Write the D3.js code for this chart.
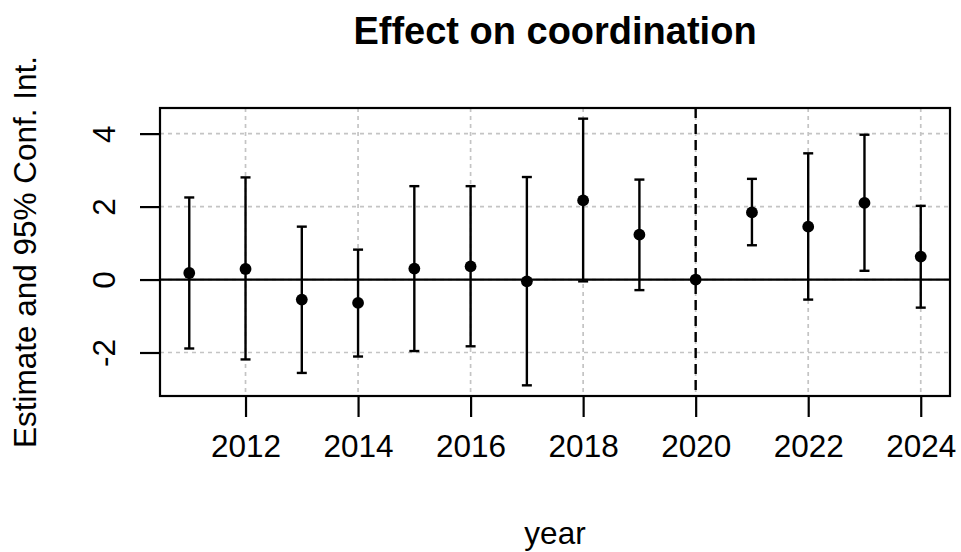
<!DOCTYPE html>
<html>
<head>
<meta charset="utf-8">
<script src="https://d3js.org/d3.v7.min.js"></script>
<title>Effect on coordination</title>
<style>
  body { margin: 0; background: #fff; }
  svg { display: block; font-family: "Liberation Sans", Arial, Helvetica, sans-serif; }
</style>
</head>
<body>
<svg width="961" height="552"></svg>
<script>
// estimates and 95% CI by year (2020 is the reference year)
const years    = [2011, 2012, 2013, 2014, 2015, 2016, 2017, 2018, 2019, 2020, 2021, 2022, 2023, 2024];
const estimate = [0.18, 0.29, -0.55, -0.64, 0.30, 0.36, -0.05, 2.17, 1.23, 0.00, 1.84, 1.45, 2.10, 0.63];
const ciLow    = [-1.89, -2.19, -2.56, -2.11, -1.96, -1.83, -2.90, -0.05, -0.29, 0.00, 0.94, -0.55, 0.24, -0.77];
const ciHigh   = [2.25, 2.80, 1.45, 0.82, 2.56, 2.56, 2.81, 4.41, 2.74, 0.00, 2.76, 3.46, 3.97, 2.02];
const xTicks   = [2012, 2014, 2016, 2018, 2020, 2022, 2024];
const yTicks   = [-2, 0, 2, 4];
const refYear  = 2020;

const rows = years.map((y, i) => ({ year: y, est: estimate[i], lo: ciLow[i], hi: ciHigh[i] }));

const svg = d3.select("svg");
const pL = 160, pR = 950, pT = 108, pB = 396;

// R style 4% axis expansion
const xPad = (d3.max(years) - d3.min(years)) * 0.04;
const x = d3.scaleLinear()
    .domain([d3.min(years) - xPad, d3.max(years) + xPad])
    .range([pL, pR]);
const yMin = d3.min(ciLow), yMax = d3.max(ciHigh);
const yPad = (yMax - yMin) * 0.04;
const y = d3.scaleLinear()
    .domain([yMin - yPad, yMax + yPad])
    .range([pB, pT]);

// grid
const grid = svg.append("g").attr("stroke", "#c4c4c4").attr("stroke-width", 1.7).attr("stroke-dasharray", "4,4");
grid.selectAll("line.v").data(xTicks).enter().append("line")
    .attr("x1", d => x(d)).attr("x2", d => x(d)).attr("y1", pT).attr("y2", pB);
grid.selectAll("line.h").data(yTicks).enter().append("line")
    .attr("y1", d => y(d)).attr("y2", d => y(d)).attr("x1", pL).attr("x2", pR);

// zero line and reference year
svg.append("line")
    .attr("x1", pL).attr("x2", pR).attr("y1", y(0)).attr("y2", y(0))
    .attr("stroke", "#000").attr("stroke-width", 2.2);
svg.append("line")
    .attr("x1", x(refYear)).attr("x2", x(refYear)).attr("y1", pT).attr("y2", pB)
    .attr("stroke", "#000").attr("stroke-width", 2.4).attr("stroke-dasharray", "10,6");

// error bars
const bars = svg.append("g").attr("stroke", "#000").attr("stroke-width", 2.4);
const withCI = rows.filter(d => d.hi > d.lo);
bars.selectAll("line.ci").data(withCI).enter().append("line")
    .attr("x1", d => x(d.year)).attr("x2", d => x(d.year))
    .attr("y1", d => y(d.lo)).attr("y2", d => y(d.hi));
bars.selectAll("line.capHi").data(withCI).enter().append("line")
    .attr("x1", d => x(d.year) - 5).attr("x2", d => x(d.year) + 5)
    .attr("y1", d => y(d.hi)).attr("y2", d => y(d.hi));
bars.selectAll("line.capLo").data(withCI).enter().append("line")
    .attr("x1", d => x(d.year) - 5).attr("x2", d => x(d.year) + 5)
    .attr("y1", d => y(d.lo)).attr("y2", d => y(d.lo));

// points
svg.append("g").selectAll("circle").data(rows).enter().append("circle")
    .attr("cx", d => x(d.year)).attr("cy", d => y(d.est)).attr("r", 5.9)
    .attr("fill", "#000");

// axes
const xAxis = svg.append("g").attr("transform", `translate(0,${pB})`)
    .call(d3.axisBottom(x).tickValues(xTicks).tickFormat(d3.format("d")).tickSize(21).tickPadding(18));
xAxis.select(".domain").remove();
xAxis.attr("font-family", null);
xAxis.selectAll("line").attr("stroke-width", 2.2);
xAxis.selectAll("text").attr("font-size", 31.5).attr("fill", "#000");

const yAxis = svg.append("g").attr("transform", `translate(${pL},0)`)
    .call(d3.axisLeft(y).tickValues(yTicks).tickSize(20));
yAxis.select(".domain").remove();
yAxis.attr("font-family", null);
yAxis.selectAll("line").attr("stroke-width", 2.2);
yAxis.selectAll("text").remove();
yAxis.selectAll(".tick").append("text")
    .attr("transform", "translate(-45,0) rotate(-90)")
    .attr("text-anchor", "middle")
    .attr("font-size", 31.5)
    .attr("fill", "#000")
    .text(d => d);

// box
svg.append("rect")
    .attr("x", pL).attr("y", pT).attr("width", pR - pL).attr("height", pB - pT)
    .attr("fill", "none").attr("stroke", "#000").attr("stroke-width", 2.2);

// labels
svg.append("text")
    .attr("x", (pL + pR) / 2).attr("y", 44)
    .attr("text-anchor", "middle").attr("font-size", 38).attr("font-weight", "bold")
    .text("Effect on coordination");
svg.append("text")
    .attr("x", (pL + pR) / 2).attr("y", 544)
    .attr("text-anchor", "middle").attr("font-size", 31.5)
    .text("year");
svg.append("text")
    .attr("transform", `translate(36,${(pT + pB) / 2}) rotate(-90)`)
    .attr("text-anchor", "middle").attr("font-size", 31.5)
    .text("Estimate and 95% Conf. Int.");
</script>
</body>
</html>
